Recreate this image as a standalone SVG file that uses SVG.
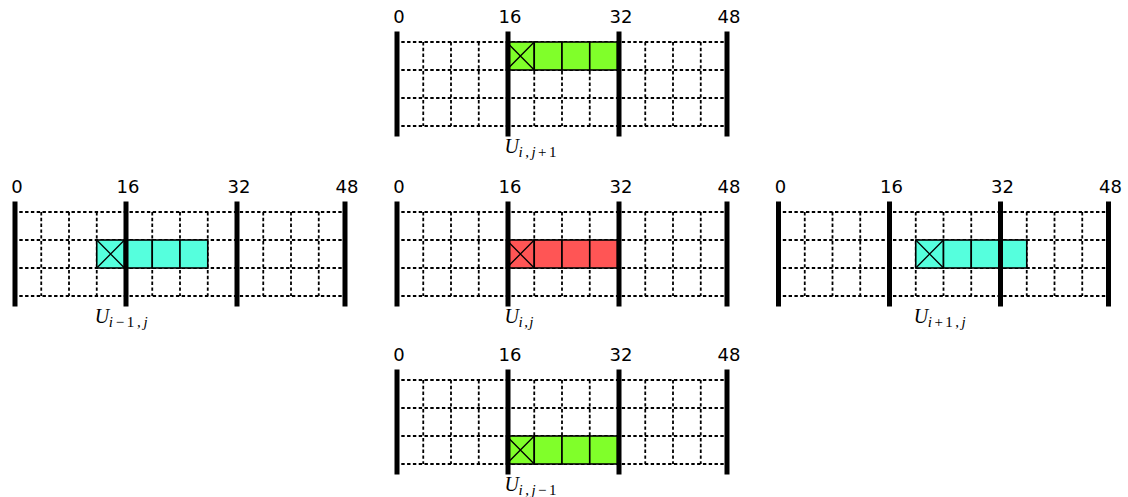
<svg xmlns="http://www.w3.org/2000/svg" xmlns:xlink="http://www.w3.org/1999/xlink" width="1128" height="497" viewBox="0 0 1128 497">
<style>
.dash{stroke:#000;stroke-width:1.8;stroke-dasharray:3.4 2.4;fill:none}
.bar{fill:#000}
.num{font-family:"DejaVu Sans",sans-serif;font-size:18px;text-anchor:middle;fill:#000}
.cell{stroke:#000;stroke-width:1.6}
.xl{stroke:#000;stroke-width:1.3;fill:none}
.green{fill:#80ff2a}
.red{fill:#ff5555}
.cyan{fill:#55ffdd}
.U{font-family:"Liberation Serif",serif;font-style:italic;font-size:20px;fill:#000}
.sub{font-family:"Liberation Serif",serif;font-size:15px;fill:#000}
.it{font-style:italic}
</style>
<defs>
<g id="grid">
<path class="dash" d="M0 10.5H333M0 38.5H333M0 66.5H333M0 94.5H333M27.75 10.5V94.5M55.5 10.5V94.5M83.25 10.5V94.5M138.75 10.5V94.5M166.5 10.5V94.5M194.25 10.5V94.5M249.75 10.5V94.5M277.5 10.5V94.5M305.25 10.5V94.5"/>
</g>
<g id="bars">
<rect class="bar" x="-1" y="0" width="5" height="105"/>
<rect class="bar" x="110" y="0" width="5" height="105"/>
<rect class="bar" x="221" y="0" width="5" height="105"/>
<rect class="bar" x="329" y="0" width="5" height="105"/>
</g>
</defs>
<rect width="1128" height="497" fill="#fff"/>
<g id="connectors"/>

<g id="panel-top" transform="translate(395.5,31.5)">
<use xlink:href="#grid"/>
<g class="green">
<rect class="cell" x="111" y="10.5" width="27.75" height="28"/>
<rect class="cell" x="138.75" y="10.5" width="27.75" height="28"/>
<rect class="cell" x="166.5" y="10.5" width="27.75" height="28"/>
<rect class="cell" x="194.25" y="10.5" width="27.75" height="28"/>
</g>
<path class="xl" d="M111 10.5L138.75 38.5M138.75 10.5L111 38.5"/>
<use xlink:href="#bars"/>
<text class="num" x="3.5" y="-9">0</text>
<text class="num" x="114.5" y="-9">16</text>
<text class="num" x="225.5" y="-9">32</text>
<text class="num" x="333.5" y="-9">48</text>
<text class="U" x="109" y="121.5">U</text>
<text class="sub" x="123" y="125.5" textLength="38" lengthAdjust="spacing"><tspan class="it">i</tspan>,<tspan class="it">j</tspan>+1</text>
</g>

<g id="panel-left" transform="translate(13.5,201.5)">
<use xlink:href="#grid"/>
<g class="cyan">
<rect class="cell" x="83.25" y="38.5" width="27.75" height="28"/>
<rect class="cell" x="111" y="38.5" width="27.75" height="28"/>
<rect class="cell" x="138.75" y="38.5" width="27.75" height="28"/>
<rect class="cell" x="166.5" y="38.5" width="27.75" height="28"/>
</g>
<path class="xl" d="M83.25 38.5L111 66.5M111 38.5L83.25 66.5"/>
<use xlink:href="#bars"/>
<text class="num" x="3.5" y="-9">0</text>
<text class="num" x="114.5" y="-9">16</text>
<text class="num" x="225.5" y="-9">32</text>
<text class="num" x="333.5" y="-9">48</text>
<text class="U" x="81.25" y="121.5">U</text>
<text class="sub" x="95.25" y="125.5" textLength="39" lengthAdjust="spacing"><tspan class="it">i</tspan>−1,<tspan class="it">j</tspan></text>
</g>

<g id="panel-center" transform="translate(395.5,201.5)">
<use xlink:href="#grid"/>
<g class="red">
<rect class="cell" x="111" y="38.5" width="27.75" height="28"/>
<rect class="cell" x="138.75" y="38.5" width="27.75" height="28"/>
<rect class="cell" x="166.5" y="38.5" width="27.75" height="28"/>
<rect class="cell" x="194.25" y="38.5" width="27.75" height="28"/>
</g>
<path class="xl" d="M111 38.5L138.75 66.5M138.75 38.5L111 66.5"/>
<use xlink:href="#bars"/>
<text class="num" x="3.5" y="-9">0</text>
<text class="num" x="114.5" y="-9">16</text>
<text class="num" x="225.5" y="-9">32</text>
<text class="num" x="333.5" y="-9">48</text>
<text class="U" x="109" y="121.5">U</text>
<text class="sub" x="123" y="125.5" textLength="15" lengthAdjust="spacing"><tspan class="it">i</tspan>,<tspan class="it">j</tspan></text>
</g>

<g id="panel-right" transform="translate(777,201.5)">
<use xlink:href="#grid"/>
<g class="cyan">
<rect class="cell" x="138.75" y="38.5" width="27.75" height="28"/>
<rect class="cell" x="166.5" y="38.5" width="27.75" height="28"/>
<rect class="cell" x="194.25" y="38.5" width="27.75" height="28"/>
<rect class="cell" x="222" y="38.5" width="27.75" height="28"/>
</g>
<path class="xl" d="M138.75 38.5L166.5 66.5M166.5 38.5L138.75 66.5"/>
<use xlink:href="#bars"/>
<text class="num" x="3.5" y="-9">0</text>
<text class="num" x="114.5" y="-9">16</text>
<text class="num" x="225.5" y="-9">32</text>
<text class="num" x="333.5" y="-9">48</text>
<text class="U" x="136.75" y="121.5">U</text>
<text class="sub" x="150.75" y="125.5" textLength="38" lengthAdjust="spacing"><tspan class="it">i</tspan>+1,<tspan class="it">j</tspan></text>
</g>

<g id="panel-bottom" transform="translate(395.5,369.5)">
<use xlink:href="#grid"/>
<g class="green">
<rect class="cell" x="111" y="66.5" width="27.75" height="28"/>
<rect class="cell" x="138.75" y="66.5" width="27.75" height="28"/>
<rect class="cell" x="166.5" y="66.5" width="27.75" height="28"/>
<rect class="cell" x="194.25" y="66.5" width="27.75" height="28"/>
</g>
<path class="xl" d="M111 66.5L138.75 94.5M138.75 66.5L111 94.5"/>
<use xlink:href="#bars"/>
<text class="num" x="3.5" y="-9">0</text>
<text class="num" x="114.5" y="-9">16</text>
<text class="num" x="225.5" y="-9">32</text>
<text class="num" x="333.5" y="-9">48</text>
<text class="U" x="109" y="121.5">U</text>
<text class="sub" x="123" y="125.5" textLength="38" lengthAdjust="spacing"><tspan class="it">i</tspan>,<tspan class="it">j</tspan>−1</text>
</g>
</svg>
